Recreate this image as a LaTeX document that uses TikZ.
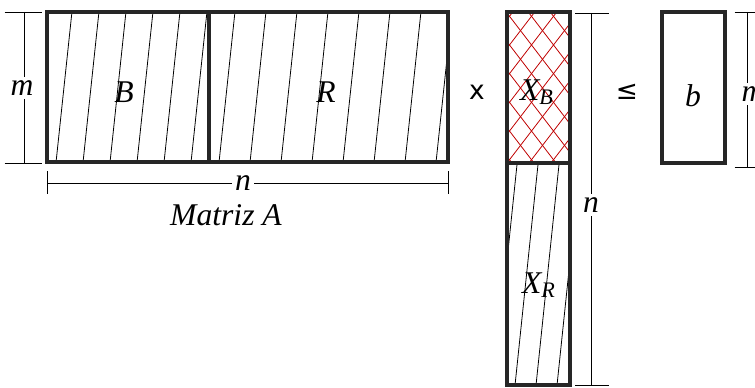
\documentclass[tikz,border=0pt]{standalone}
\usepackage{fontspec}
\setmainfont{Liberation Serif}
\newfontfamily\symfont{DejaVu Sans}
\usetikzlibrary{positioning}
\tikzset{
  % bordes de las matrices
  mat/.style={line width=2.2pt,draw=black!85},
  % rayado
  hatch/.style={line width=0.45pt},
  cross/.style={line width=0.45pt,draw=red!75!black},
  % cotas
  dim/.style={line width=0.55pt},
  lbl/.style={font=\fontsize{18}{20}\selectfont\itshape,inner sep=1pt},
  dimlbl/.style={lbl,fill=white,inner sep=2pt},
  op/.style={font=\fontsize{15}{17}\selectfont\symfont,inner sep=1pt}
}
\begin{document}
\begin{tikzpicture}[x=0.02cm,y=-0.02cm]
\useasboundingbox (0,0) rectangle (755,388);
% Matriz A
\coordinate (Atl) at (47,12);
\coordinate (Abr) at (448,162);
\coordinate (Bm) at (209,12);
\coordinate (Bb) at (209,162);
\begin{scope}
  \clip (Atl) rectangle (Bb);
  \foreach \i in {0,...,7} \draw[hatch] (28+\i*27,172) -- ++(18,-170);
\end{scope}
\begin{scope}
  \clip (Bm) rectangle (Abr);
  \foreach \i in {0,...,8} \draw[hatch] (187+\i*31,172) -- ++(18,-170);
\end{scope}
\draw[mat] (Atl) rectangle (Abr);
\draw[mat] (Bm) -- (Bb);
\node[lbl] (B) at (124,92) {B};
\node[lbl] (R) at (326,92) {R};
% cota m
\coordinate (m1) at (24,12);
\coordinate (m2) at (24,163);
\draw[dim] (m1) -- (m2);
\draw[dim] ([xshift=-11]m1) -- ([xshift=10]m1);
\draw[dim] ([xshift=-11]m2) -- ([xshift=10]m2);
\node[dimlbl] (mA) at (22,88) {m};
% cota n
\coordinate (n1) at (47,183);
\coordinate (n2) at (448,183);
\draw[dim] (n1) -- (n2);
\draw[dim] ([yshift=-6]n1) -- ([yshift=7]n1);
\draw[dim] ([yshift=-6]n2) -- ([yshift=7]n2);
\node[dimlbl] (nA) at (243,183) {n};
\node[lbl] (matA) at (226,215) {Matriz A};
% producto
\node[op] (por) at (477,92) {x};
% vector X
\coordinate (Xtl) at (507,12);
\coordinate (Xm) at (570,163);
\coordinate (Xml) at (507,163);
\coordinate (Xbr) at (570,385);
\begin{scope}
  \clip (Xtl) rectangle (Xm);
  \foreach \i in {-7,...,4} {
    \draw[cross] (507+\i*22,163) -- ++(115,-150);
    \draw[cross] (507+\i*22+115,163) -- ++(-115,-150);
  }
\end{scope}
\begin{scope}
  \clip (Xml) rectangle (Xbr);
  \foreach \i in {0,...,5} \draw[hatch] (472+\i*21,395) -- ++(25,-240);
\end{scope}
\draw[mat] (Xtl) rectangle (Xbr);
\draw[mat] (Xml) -- (Xm);
\node[lbl] (XB) at (537,92) {X\textsubscript{B}};
\node[lbl] (XR) at (539,285) {X\textsubscript{R}};
% cota n del vector
\coordinate (nx1) at (591,13);
\coordinate (nx2) at (591,385);
\draw[dim] (nx1) -- (nx2);
\draw[dim] ([xshift=-9]nx1) -- ([xshift=10]nx1);
\draw[dim] ([xshift=-9]nx2) -- ([xshift=10]nx2);
\node[dimlbl] (nX) at (591,205) {n};
% desigualdad
\node[op] (leq) at (627,92) {≤};
% vector b
\coordinate (btl) at (662,12);
\coordinate (bbr) at (725,163);
\draw[mat] (btl) rectangle (bbr);
\node[lbl] (b) at (693,96) {b};
\coordinate (mb1) at (747,12);
\coordinate (mb2) at (747,167);
\draw[dim] (mb1) -- (mb2);
\draw[dim] ([xshift=-7]mb1) -- ([xshift=8]mb1);
\draw[dim] ([xshift=-7]mb2) -- ([xshift=8]mb2);
\node[dimlbl] (mb) at (753,94) {m};
\end{tikzpicture}
\end{document}
